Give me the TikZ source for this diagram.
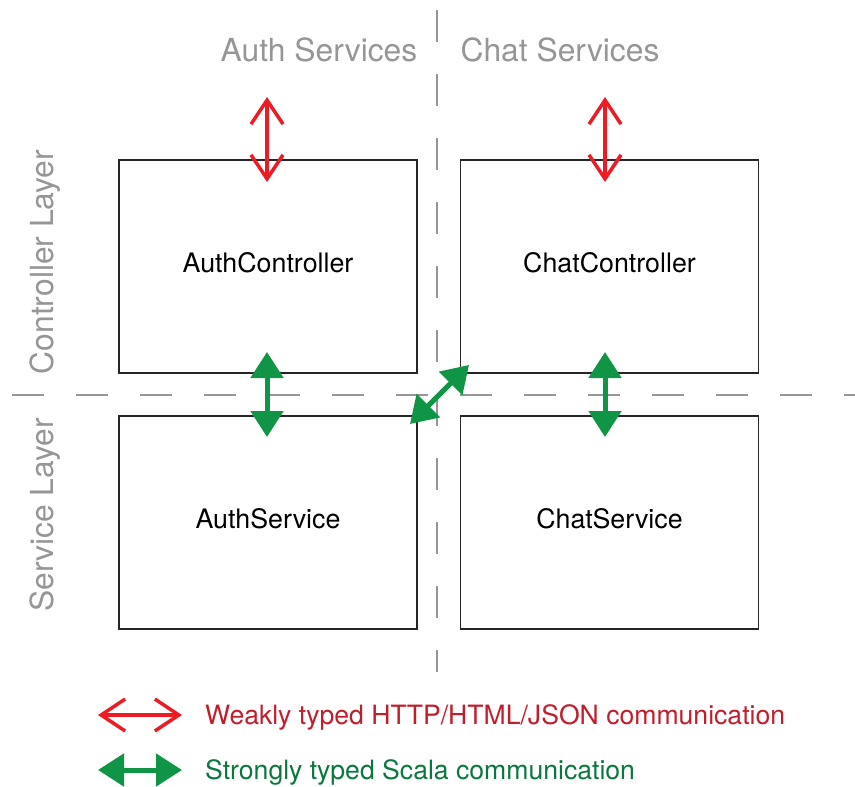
\documentclass[tikz,border=0pt]{standalone}
\usepackage{fontspec}
\setmainfont{TeX Gyre Heros}
\usetikzlibrary{arrows.meta}
\definecolor{wred}{RGB}{237,28,36}
\definecolor{wredtxt}{RGB}{192,30,45}
\definecolor{sgreen}{RGB}{16,148,70}
\definecolor{sgreentxt}{RGB}{10,120,60}
\definecolor{lgray}{RGB}{150,150,150}
\tikzset{
  comp/.style={draw=black!85, line width=1.3pt, minimum width=298pt, minimum height=213pt, inner sep=0pt, text height=19.3pt, text depth=7pt, font=\fontsize{26.8}{30}\selectfont},
  divider/.style={lgray, line width=2pt, dash pattern=on 32pt off 32pt},
  lbl/.style={text=lgray, font=\fontsize{31.8}{36}\selectfont, inner sep=0pt},
  weak/.style={wred, line width=3.5pt, {Straight Barb[length=24pt,width=32pt,line width=3.5pt]}-{Straight Barb[length=24pt,width=32pt,line width=3.5pt]}},
  strong/.style={sgreen, line width=5pt, {Triangle[length=26pt,width=32pt]}-{Triangle[length=26pt,width=32pt]}},
  legtxt/.style={anchor=west, inner sep=0pt, font=\fontsize{26.6}{30}\selectfont}
}
\begin{document}
\begin{tikzpicture}[x=1pt,y=-1pt]
\useasboundingbox (0,0) rectangle (855,787);
% dividers
\coordinate (vtop) at (437,10);
\coordinate (vbot) at (437,672);
\coordinate (hl) at (12,395);
\coordinate (hr) at (855,395);
\draw[divider] (vtop) -- (vbot);
\draw[divider] (hl) -- (hr);
% boxes
\node[comp, fill=white] (ac) at (268,266.5) {AuthController};
\node[comp, fill=white] (cc) at (609.5,266.5) {ChatController};
\node[comp, fill=white] (as) at (268,522.5) {AuthService};
\node[comp, fill=white] (cs) at (609.5,522.5) {ChatService};
% labels
\node[lbl] (authlbl) at (319,50) {Auth Services};
\node[lbl] (chatlbl) at (560,50) {Chat Services};
\node[lbl, rotate=90] (ctrllbl) at (45,262) {Controller Layer};
\node[lbl, rotate=90] (svclbl) at (45,515) {Service Layer};
% red arrows
\coordinate (ra1) at (267,97);
\coordinate (ra2) at (267,182);
\coordinate (rb1) at (605,97);
\coordinate (rb2) at (605,182);
\draw[weak] (ra1) -- (ra2);
\draw[weak] (rb1) -- (rb2);
% green arrows
\coordinate (ga1) at (267,352);
\coordinate (ga2) at (267,437);
\coordinate (gb1) at (605,352);
\coordinate (gb2) at (605,437);
\coordinate (gd1) at (410,424);
\coordinate (gd2) at (469,365);
\draw[strong] (ga1) -- (ga2);
\draw[strong] (gb1) -- (gb2);
\draw[strong] (gd1) -- (gd2);
% legend
\coordinate (lw1) at (98,715);
\coordinate (lw2) at (182,715);
\coordinate (ls1) at (98,770);
\coordinate (ls2) at (182,770);
\draw[weak] (lw1) -- (lw2);
\draw[strong] (ls1) -- (ls2);
\node[legtxt, text=wredtxt] (lwt) at (205,717) {Weakly typed HTTP/HTML/JSON communication};
\node[legtxt, text=sgreentxt] (lst) at (205,772) {Strongly typed Scala communication};
\end{tikzpicture}
\end{document}
